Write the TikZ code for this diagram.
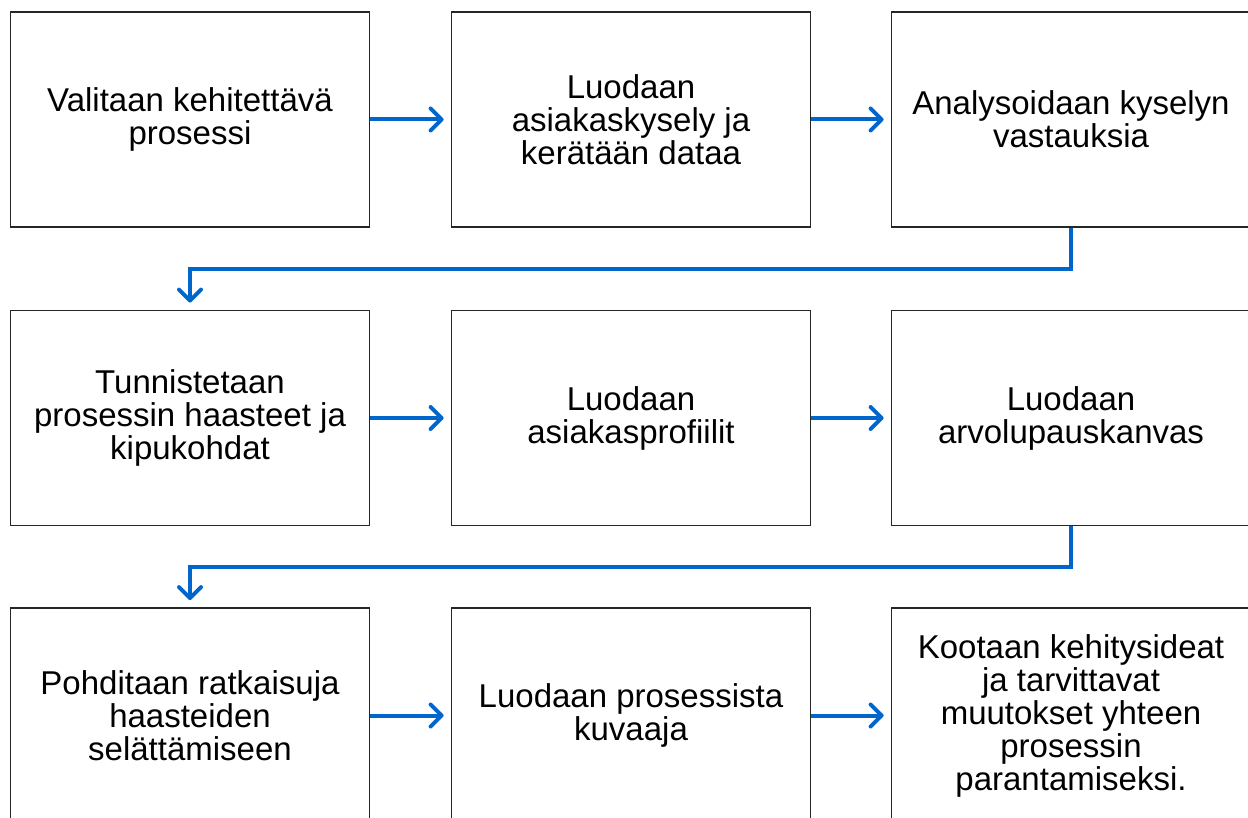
\documentclass[tikz,border=0pt]{standalone}
\usepackage{fontspec}
\setmainfont{Liberation Sans}
\usetikzlibrary{arrows.meta,positioning}
\definecolor{flowblue}{HTML}{0066CC}
\definecolor{boxline}{HTML}{262626}
\tikzset{
  stepbox/.style={draw=boxline, line width=1.8pt, fill=white, rectangle,
    minimum width=359pt, minimum height=215pt, inner sep=0pt,
    align=center, text=black, font=\fontsize{33}{33}\selectfont},
  flow/.style={draw=flowblue, line width=4pt,
    -{Straight Barb[length=11pt, width=22pt, round]}, shorten >=7pt},
}
\begin{document}
\begin{tikzpicture}[x=1pt, y=-1pt]
  \clip (0,0) rectangle (1248,818);
  \fill[white] (0,0) rectangle (1248,818);

  % row 1
  \node[stepbox] (b1) at (190,119.5) {Valitaan kehitettävä\\prosessi};
  \node[stepbox] (b2) at (631,119.5) {Luodaan\\asiakaskysely ja\\kerätään dataa};
  \node[stepbox] (b3) at (1071,119.5) {Analysoidaan kyselyn\\vastauksia};
  % row 2
  \node[stepbox] (b4) at (190,418) {Tunnistetaan\\prosessin haasteet ja\\kipukohdat};
  \node[stepbox] (b5) at (631,418) {Luodaan\\asiakasprofiilit};
  \node[stepbox] (b6) at (1071,418) {Luodaan\\arvolupauskanvas};
  % row 3
  \node[stepbox] (b7) at (190,715.5) {Pohditaan ratkaisuja\\haasteiden\\selättämiseen};
  \node[stepbox] (b8) at (631,715.5) {Luodaan prosessista\\kuvaaja};
  \node[stepbox] (b9) at (1071,715.5) {Kootaan kehitysideat\\ja tarvittavat\\muutokset yhteen\\prosessin\\parantamiseksi.};

  % connectors within rows
  \draw[flow] (b1) -- (b2);
  \draw[flow] (b2) -- (b3);
  \draw[flow] (b4) -- (b5);
  \draw[flow] (b5) -- (b6);
  \draw[flow] (b7) -- (b8);
  \draw[flow] (b8) -- (b9);

  % connectors between rows
  \draw[flow] (b3.south) -- ++(0,41) -| (b4.north);
  \draw[flow] (b6.south) -- ++(0,41) -| (b7.north);
\end{tikzpicture}
\end{document}
